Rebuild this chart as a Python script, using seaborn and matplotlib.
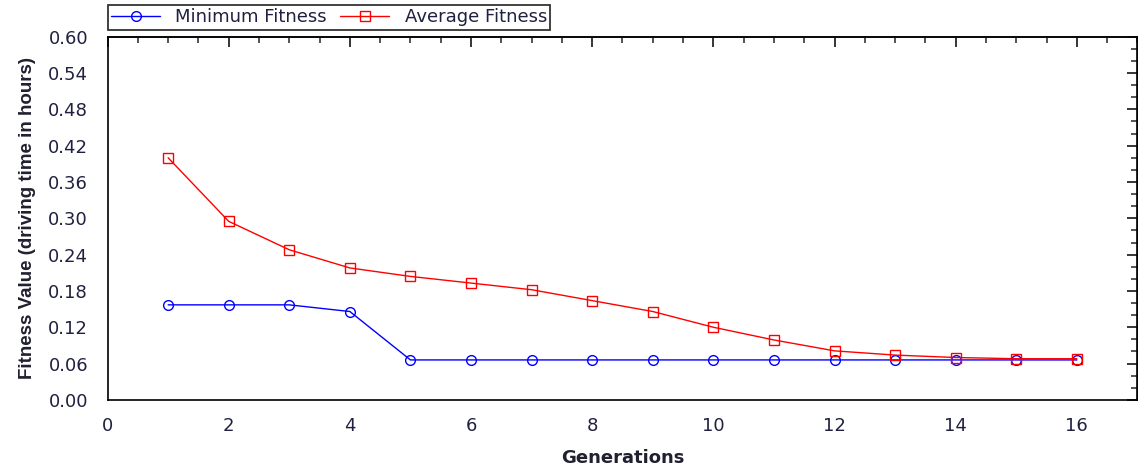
import numpy as np
import pandas as pd
import matplotlib
matplotlib.use("Agg")
import matplotlib.pyplot as plt
import seaborn as sns
from matplotlib.ticker import MultipleLocator, FormatStrFormatter, NullFormatter
from matplotlib.lines import Line2D

generations = list(range(1, 17))
min_fitness = [0.157, 0.157, 0.157, 0.146, 0.066, 0.066, 0.066, 0.066,
               0.066, 0.066, 0.066, 0.066, 0.066, 0.066, 0.066, 0.066]
avg_fitness = [0.400, 0.295, 0.248, 0.218, 0.204, 0.193, 0.182, 0.164,
               0.146, 0.120, 0.099, 0.081, 0.074, 0.070, 0.068, 0.068]
series_names = ["Minimum Fitness", "Average Fitness"]
colors = ["#0000FF", "#FF0000"]

df = pd.DataFrame({
    "Generations": generations * 2,
    "Fitness": min_fitness + avg_fitness,
    "Series": [series_names[0]] * 16 + [series_names[1]] * 16,
})

sns.set_style("white")
plt.rcParams["font.family"] = ["DejaVu Sans"]

fig = plt.figure(figsize=(11.38, 4.71), dpi=100)
ax = fig.add_axes([0.0945, 0.151, 0.905, 0.771])

sns.lineplot(data=df, x="Generations", y="Fitness", hue="Series", style="Series",
             palette=colors, markers=["o", "s"], dashes=False,
             markersize=7, markeredgewidth=1.0, linewidth=1.0, ax=ax, legend=False)
# hollow markers, edge in the line colour
for line, c in zip(ax.lines, colors):
    line.set_markeredgecolor(c)
    line.set_markerfacecolor("none")

ax.set_xlim(0, 17)
ax.set_ylim(0, 0.60)
ax.xaxis.set_major_locator(MultipleLocator(2))
ax.xaxis.set_minor_locator(MultipleLocator(0.5))
ax.yaxis.set_major_locator(MultipleLocator(0.06))
ax.yaxis.set_minor_locator(MultipleLocator(0.02))
ax.yaxis.set_major_formatter(FormatStrFormatter("%.2f"))

for s in ax.spines.values():
    s.set_color("black")
    s.set_linewidth(1.2)
ax.tick_params(which="major", direction="inout", length=12, width=1.3,
               labelsize=13, colors="black")
ax.tick_params(which="minor", direction="inout", length=5, width=1.1, colors="black")
ax.tick_params(axis="y", which="major", pad=8)
ax.tick_params(axis="x", which="major", pad=6)
for lab in ax.get_xticklabels() + ax.get_yticklabels():
    lab.set_color("#202040")

# top and right edges: inward ticks only, no labels
top = ax.secondary_xaxis("top")
top.xaxis.set_major_locator(MultipleLocator(2))
top.xaxis.set_minor_locator(MultipleLocator(0.5))
top.xaxis.set_major_formatter(NullFormatter())
top.tick_params(which="major", direction="in", length=7, width=1.3)
top.tick_params(which="minor", direction="in", length=4, width=1.1)
top.spines["top"].set_linewidth(1.2)
right = ax.secondary_yaxis("right")
right.yaxis.set_major_locator(MultipleLocator(0.06))
right.yaxis.set_minor_locator(MultipleLocator(0.02))
right.yaxis.set_major_formatter(NullFormatter())
right.tick_params(which="major", direction="in", length=7, width=1.3)
right.tick_params(which="minor", direction="in", length=4, width=1.1)

ax.set_xlabel("Generations", fontsize=13, fontweight="bold", color="#202030")
ax.set_ylabel("Fitness Value (driving time in hours)", fontsize=13.5,
              fontweight="bold", family="Liberation Sans", color="#202030")
ax.xaxis.set_label_coords(0.5, -0.135)
ax.yaxis.set_label_coords(-0.069, 0.5)

handles = [Line2D([], [], color=colors[0], marker="o", markerfacecolor="none",
                  markersize=7, linewidth=1.0),
           Line2D([], [], color=colors[1], marker="s", markerfacecolor="none",
                  markersize=7, linewidth=1.0)]
leg = fig.legend(handles, series_names, loc="upper left", ncol=2,
                 bbox_to_anchor=(0.0945, 0.990), fontsize=13, frameon=True,
                 fancybox=False, edgecolor="black", handlelength=2.7,
                 columnspacing=0.75, handletextpad=0.85, borderpad=0.2,
                 borderaxespad=0)
leg.get_frame().set_linewidth(1.3)
for t in leg.get_texts():
    t.set_color("#202040")

fig.savefig("out.png", dpi=100)
